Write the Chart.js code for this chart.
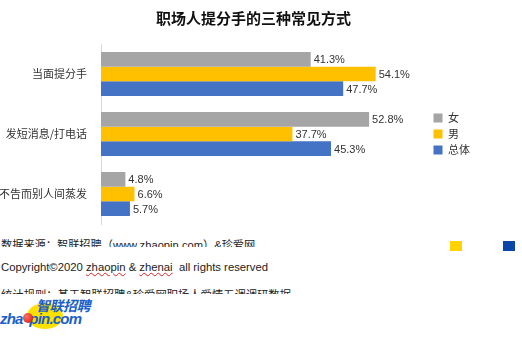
<!DOCTYPE html>
<html>
<head>
<meta charset="utf-8">
<script src="https://cdn.jsdelivr.net/npm/chart.js@4/dist/chart.umd.min.js"></script>
<style>
  html, body { margin: 0; padding: 0; background: #fff; }
  body { width: 522px; height: 338px; position: relative; overflow: hidden; font-family: "Liberation Sans", Arial, "Noto Sans CJK SC", sans-serif; color: #222; }
  #wrap { position: absolute; left: 0; top: 0; width: 522px; height: 228px; }
  #title { position: absolute; left: 0; top: 8px; width: 507px; text-align: center; font: bold 15px "Noto Sans CJK SC", sans-serif; color: #111; line-height: 20px; }
  .line { position: absolute; left: 1px; white-space: nowrap; overflow: hidden; }
  #src { top: 236px; height: 11px; font-size: 11.2px; line-height: 19px; }
  #copy { top: 258px; height: 20px; font-size: 11.3px; line-height: 18px; }
  #rule { top: 287px; height: 7px; font-size: 11.3px; line-height: 16px; }
  .sq { position: absolute; top: 241px; width: 12px; height: 10px; }
  .wavy { text-decoration: underline wavy #e02020; text-decoration-thickness: 1px; text-underline-offset: 1px; }
  #logo { position: absolute; left: 0; top: 298px; width: 100px; height: 36px; }
  #logo .circ { position: absolute; left: 27px; top: 5px; width: 36px; height: 26px; border-radius: 50%; background: #ffe100; }
  #logo .cn { position: absolute; left: 36px; top: 0px; font: italic bold 14px "Noto Sans CJK SC", sans-serif; color: #1a5fc8; line-height: 15px; letter-spacing: -0.5px; }
  #logo .en { position: absolute; left: 0px; top: 13px; font: italic bold 15px "Liberation Sans", Arial, sans-serif; color: #1a5fc8; line-height: 15px; letter-spacing: -0.8px; }
  #logo .dot { position: absolute; left: 23px; top: 15px; width: 10px; height: 10px; border-radius: 50%; background: radial-gradient(circle at 35% 35%, #ff7060, #d01010); }
</style>
</head>
<body>
<div id="wrap"><canvas id="c" width="522" height="228"></canvas></div>
<div id="title"></div>

<div id="src" class="line">数据来源：智联招聘（www.zhaopin.com）&amp;珍爱网</div>
<div id="copy" class="line">Copyright©2020 <span class="wavy">zhaopin</span> &amp; <span class="wavy">zhenai</span>&nbsp; all rights reserved</div>
<div id="rule" class="line">统计规则：基于智联招聘&amp;珍爱网职场人爱情五调调研数据</div>
<div class="sq" style="left:450px;background:#ffd200;"></div>
<div class="sq" style="left:503px;background:#0a47a9;"></div>
<div id="logo">
  <div class="circ"></div>
  <div class="cn">智联招聘</div>
  <div class="en">zha&nbsp;&nbsp;pin.com</div>
  <div class="dot"></div>
</div>

<script>
const title = '职场人提分手的三种常见方式';
const categories = ['当面提分手', '发短消息/打电话', '不告而别人间蒸发'];
const seriesNames = ['女', '男', '总体'];
const female = [41.3, 52.8, 4.8];
const male = [54.1, 37.7, 6.6];
const overall = [47.7, 45.3, 5.7];
const colors = ['#a5a5a5', '#ffc000', '#4472c4'];

document.getElementById('title').textContent = title;

const valueLabels = {
  id: 'valueLabels',
  afterDatasetsDraw(chart) {
    const ctx = chart.ctx;
    ctx.save();
    ctx.font = '11px "Liberation Sans", Arial, sans-serif';
    ctx.fillStyle = '#333';
    ctx.textAlign = 'left';
    ctx.textBaseline = 'middle';
    chart.data.datasets.forEach((ds, i) => {
      const meta = chart.getDatasetMeta(i);
      meta.data.forEach((bar, j) => {
        ctx.fillText(ds.data[j].toFixed(1) + '%', bar.x + 3, bar.y + 1);
      });
    });
    ctx.restore();
  }
};

new Chart(document.getElementById('c'), {
  type: 'bar',
  data: {
    labels: categories,
    datasets: [
      { label: seriesNames[0], data: female, backgroundColor: colors[0] },
      { label: seriesNames[1], data: male, backgroundColor: colors[1] },
      { label: seriesNames[2], data: overall, backgroundColor: colors[2] }
    ]
  },
  options: {
    indexAxis: 'y',
    responsive: false,
    animation: false,
    events: [],
    datasets: { bar: { categoryPercentage: 0.733, barPercentage: 1.0, borderWidth: 0 } },
    layout: { padding: { top: 44, right: 42, bottom: 4, left: 0 } },
    scales: {
      x: { display: false, min: 0, max: 64.5 },
      y: {
        grid: { display: false, drawTicks: false },
        border: { display: true, color: '#d9d9d9', width: 1 },
        ticks: { color: '#333', padding: 14, font: { size: 11, family: '"Noto Sans CJK SC", sans-serif' } },
        afterFit(scale) { scale.width = 101; scale.paddingTop = 0; scale.paddingBottom = 0; }
      }
    },
    plugins: {
      title: { display: false },
      legend: {
        position: 'right',
        labels: {
          boxWidth: 9, boxHeight: 9, padding: 5, color: '#333',
          font: { size: 11, family: '"Noto Sans CJK SC", sans-serif' }
        }
      },
      tooltip: { enabled: false }
    }
  },
  plugins: [valueLabels]
});
</script>
</body>
</html>
